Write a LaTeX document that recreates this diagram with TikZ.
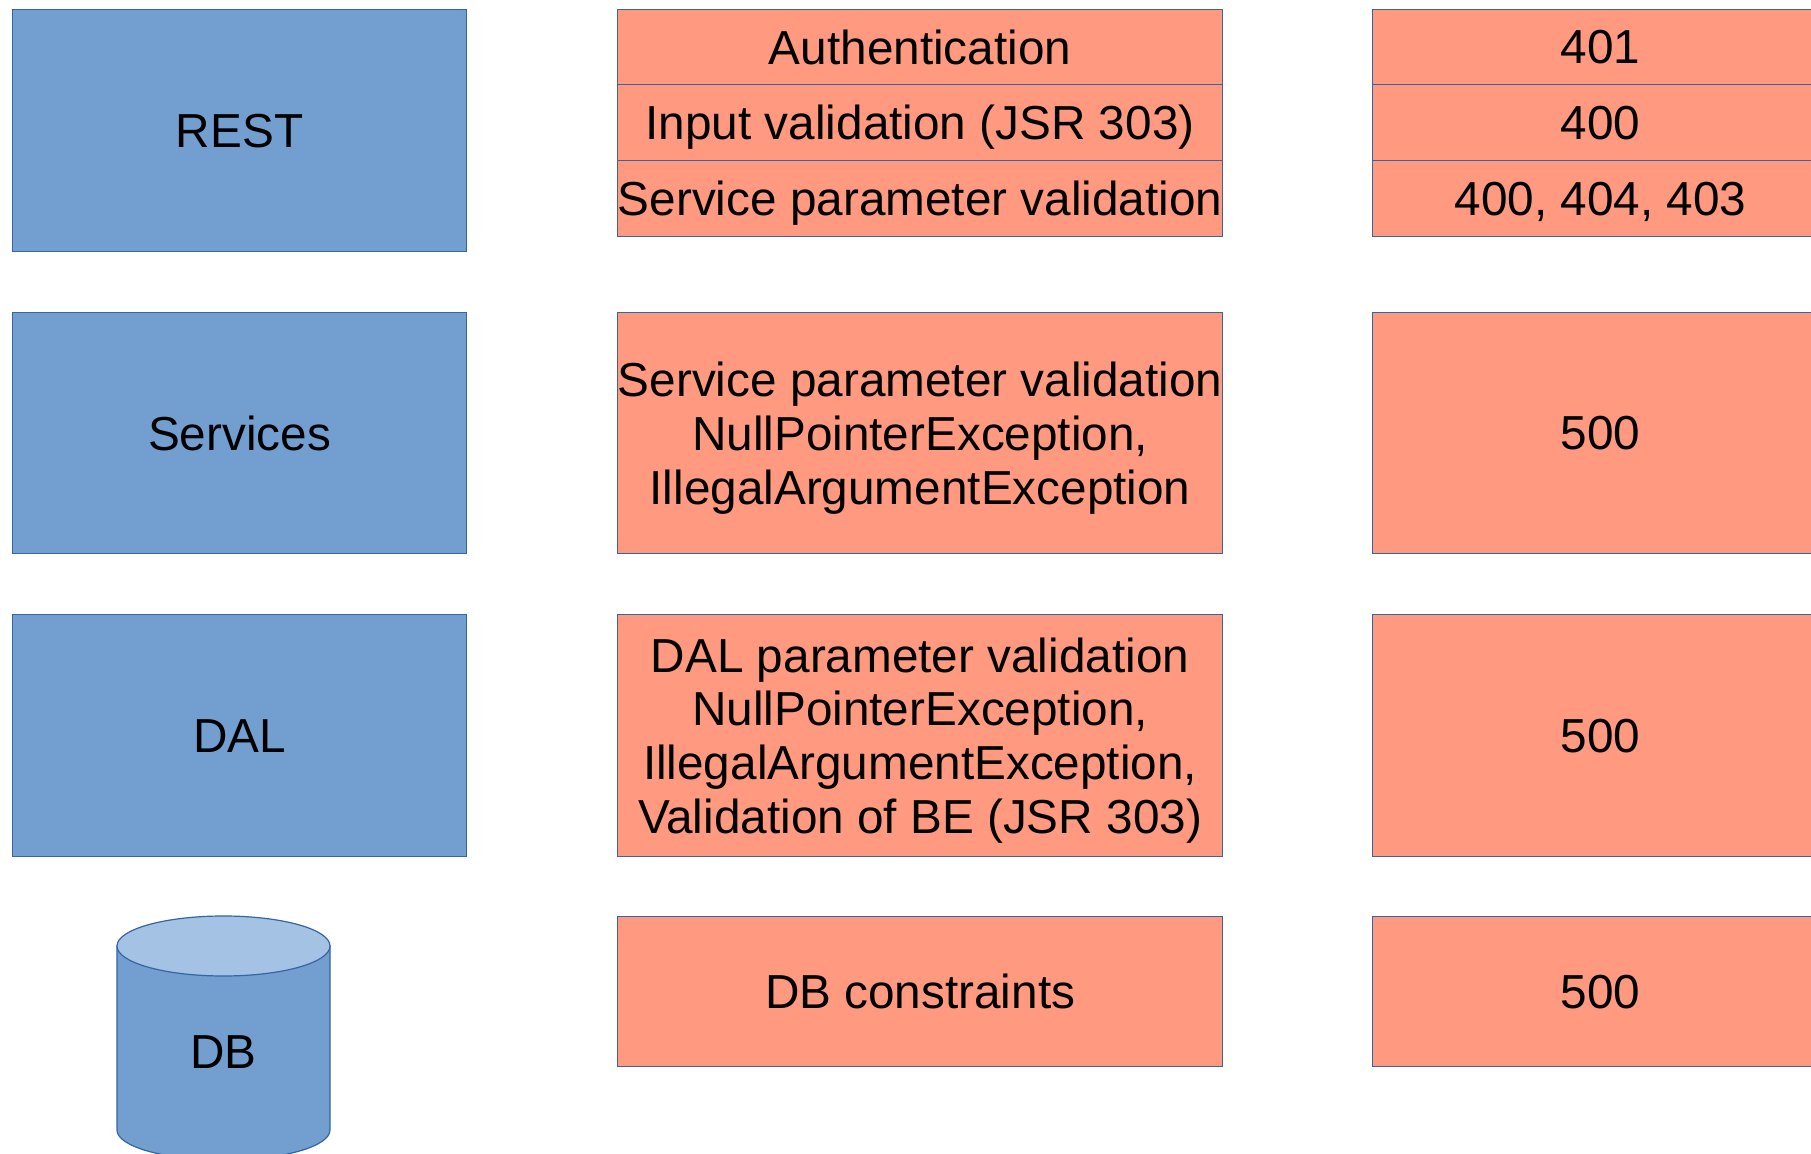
\documentclass[tikz,border=0pt]{standalone}
\usepackage{fontspec}
\setmainfont{Liberation Sans}
\definecolor{layerblue}{HTML}{729FCF}
\definecolor{layerline}{HTML}{3465A4}
\definecolor{dbtop}{HTML}{A4C2E3}
\definecolor{checkfill}{HTML}{FF9980}
\tikzset{
  box/.style={draw=layerline, line width=0.6pt, rectangle, inner sep=0pt, anchor=north west,
    font=\fontsize{23.85}{26.9}\selectfont, align=center, text depth=0pt},
  layer/.style={box, fill=layerblue},
  check/.style={box, fill=checkfill},
}
\begin{document}
\begin{tikzpicture}[x=0.5pt, y=-0.5pt]
  \useasboundingbox (0,0) rectangle (1811,1154);
  \clip (0,0) rectangle (1811,1154);
  \fill[white] (0,0) rectangle (1811,1154);

  % application layers
  \node[layer, minimum width=227pt, minimum height=121pt] (rest) at (12,9) {REST};
  \node[layer, minimum width=227pt, minimum height=120.5pt] (services) at (12,312) {Services};
  \node[layer, minimum width=227pt, minimum height=121pt] (dal) at (12,614) {DAL};

  % database cylinder
  \fill[layerblue, draw=layerline, line width=0.6pt]
    (117,946) -- (117,1130) arc[start angle=180, end angle=0, x radius=106.5, y radius=30] -- (330,946) -- cycle;
  \fill[dbtop, draw=layerline, line width=0.6pt] (223.5,946) ellipse[x radius=106.5, y radius=30];
  \node[font=\fontsize{23.85}{26.9}\selectfont, text depth=0pt] (db) at (223.5,1052) {DB};

  % validation steps
  \node[check, minimum width=302.5pt, minimum height=37.5pt] (auth) at (617,9) {Authentication};
  \node[check, minimum width=302.5pt, minimum height=38pt] (input) at (617,84) {Input validation (JSR 303)};
  \node[check, minimum width=302.5pt, minimum height=38pt] (svcparam) at (617,160) {Service parameter validation};
  \node[check, minimum width=302.5pt, minimum height=120.5pt] (svccheck) at (617,312)
    {Service parameter validation\\NullPointerException,\\IllegalArgumentException};
  \node[check, minimum width=302.5pt, minimum height=121pt] (dalcheck) at (617,614)
    {DAL parameter validation\\NullPointerException,\\IllegalArgumentException,\\Validation of BE (JSR 303)};
  \node[check, minimum width=302.5pt, minimum height=75pt] (dbcheck) at (617,916) {DB constraints};

  % resulting status codes
  \node[check, minimum width=228pt, minimum height=37.5pt] (c401) at (1372,9) {401};
  \node[check, minimum width=228pt, minimum height=38pt] (c400) at (1372,84) {400};
  \node[check, minimum width=228pt, minimum height=38pt] (cmulti) at (1372,160) {400, 404, 403};
  \node[check, minimum width=228pt, minimum height=120.5pt] (c500a) at (1372,312) {500};
  \node[check, minimum width=228pt, minimum height=121pt] (c500b) at (1372,614) {500};
  \node[check, minimum width=228pt, minimum height=75pt] (c500c) at (1372,916) {500};
\end{tikzpicture}
\end{document}
